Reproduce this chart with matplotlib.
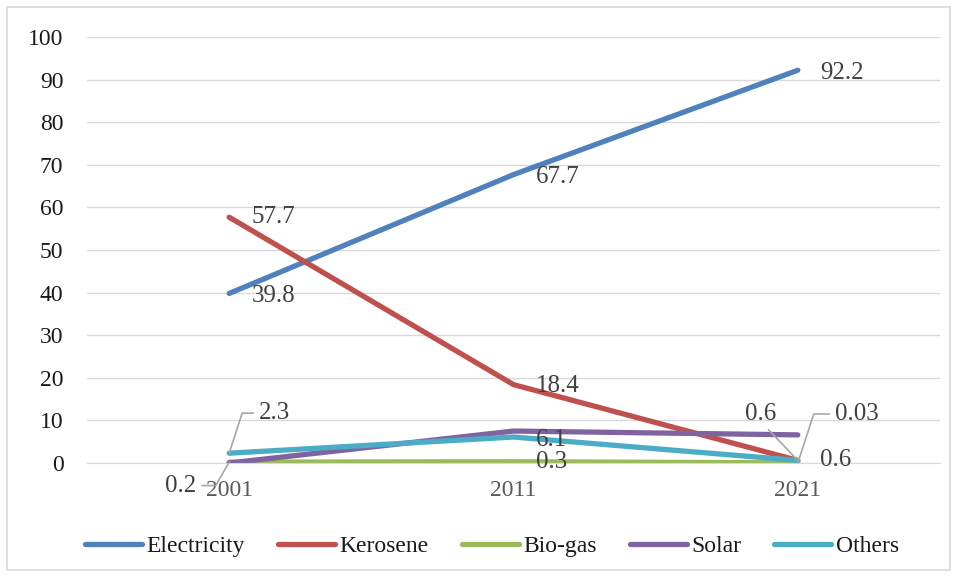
import numpy as np
import matplotlib.pyplot as plt
from matplotlib.patches import Rectangle

years = ['2001', '2011', '2021']
series = ['Electricity', 'Kerosene', 'Bio-gas', 'Solar', 'Others']
electricity = [39.8, 67.7, 92.2]
kerosene = [57.7, 18.4, 0.6]
biogas = [0.2, 0.3, 0.03]
solar = [0.0, 7.5, 6.6]
others = [2.3, 6.1, 0.6]
colors = ['#4F81BD', '#C0504D', '#9BBB59', '#8064A2', '#4BACC6']

plt.rcParams['font.family'] = ['Liberation Serif', 'DejaVu Serif']
txt = '#404040'

fig = plt.figure(figsize=(9.57, 5.77), dpi=100)
ax = fig.add_axes([87/957, 114/577, 853/957, 426/577])
fig.patches.append(Rectangle((7/957, 7/577), 943/957, 563/577, transform=fig.transFigure,
                             fill=False, edgecolor='#D9D9D9', linewidth=1.2))

x = np.arange(len(years))
data = [electricity, kerosene, biogas, solar, others]
for name, vals, c in zip(series, data, colors):
    ax.plot(x, vals, color=c, linewidth=3.8, label=name, solid_capstyle='round')

ax.set_xlim(-0.5, 2.5)
ax.set_ylim(0, 100)
ax.set_yticks(range(0, 101, 10))
ax.set_xticks(x)
ax.set_xticklabels(years)
ax.grid(axis='y', color='#D9D9D9', linewidth=1)
ax.set_axisbelow(True)
for s in ['top', 'right', 'left']:
    ax.spines[s].set_visible(False)
ax.spines['bottom'].set_color('#D9D9D9')
ax.tick_params(length=0, labelsize=17)
ax.tick_params(axis='y', pad=17, colors='#1a1a1a')
ax.tick_params(axis='x', pad=12, colors='#595959')

fs = 18
# labels to the right of points
def right(i, v, dy=0):
    ax.annotate(f'{v}', (x[i], v), xytext=(16, dy), textcoords='offset points',
                ha='left', va='center', fontsize=fs, color=txt)

for i, v in enumerate(electricity):
    right(i, v, -2)
right(0, kerosene[0], 0)
right(1, kerosene[1], -1)
right(2, kerosene[2], 0)
right(1, others[1], -2)
right(1, biogas[1], 0)

# labels with leader lines
lead = dict(arrowstyle='-', color='#A6A6A6', linewidth=1.2, shrinkA=2, shrinkB=0)
ax.annotate(f'{others[0]}', (x[0], others[0]), xytext=(x[0] + 0.105, 11.7),
            ha='left', va='center', fontsize=fs, color=txt,
            arrowprops=dict(lead, relpos=(0, 0.5),
                            connectionstyle='angle,angleA=0,angleB=72,rad=0'))
ax.annotate(f'{biogas[0]}', (x[0], biogas[0]), xytext=(x[0] - 0.115, -5.3),
            ha='right', va='center', fontsize=fs, color=txt,
            arrowprops=dict(lead, relpos=(1, 0.5),
                            connectionstyle='angle,angleA=0,angleB=60,rad=0'))
ax.annotate(f'{biogas[2]}', (x[2], biogas[2]), xytext=(x[2] + 0.13, 11.5),
            ha='left', va='center', fontsize=fs, color=txt,
            arrowprops=dict(lead, relpos=(0, 0.5),
                            connectionstyle='angle,angleA=0,angleB=72,rad=0'))
ax.annotate(f'{others[2]}', (x[2], others[2]), xytext=(x[2] - 0.13, 11.5),
            ha='center', va='center', fontsize=fs, color=txt,
            arrowprops=dict(lead, relpos=(0.6, 0)))

ax.legend(loc='center', bbox_to_anchor=(0.475, -0.195), ncol=5, frameon=False,
          fontsize=17, handlelength=2.4, columnspacing=1.4, handletextpad=0.2,
          labelcolor='#1a1a1a')

fig.savefig('out.png', dpi=100)
